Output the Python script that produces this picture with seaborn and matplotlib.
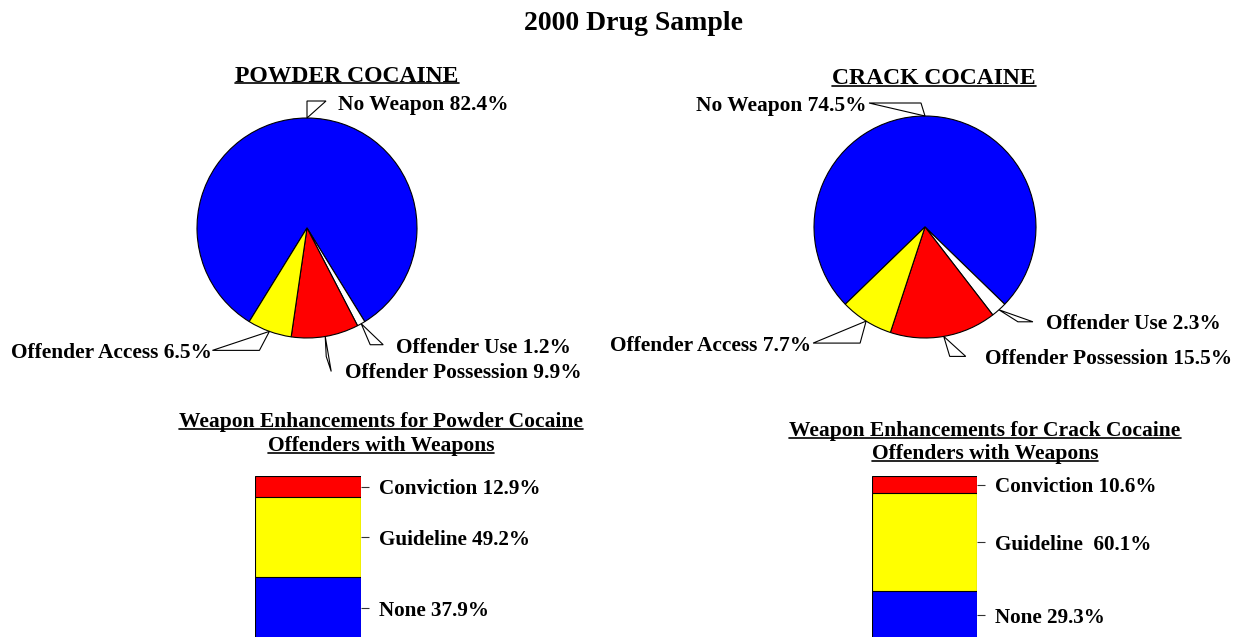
import numpy as np
import pandas as pd
import matplotlib
matplotlib.use("Agg")
import matplotlib.pyplot as plt
import matplotlib.transforms as mtransforms
from matplotlib.patches import Polygon
from matplotlib.lines import Line2D
import seaborn as sns

# pie data
pie_names = ['No Weapon', 'Offender Use', 'Offender Possession', 'Offender Access']
powder_pie = [82.4, 1.2, 9.9, 6.5]
crack_pie = [74.5, 2.3, 15.5, 7.7]

# bar data (top to bottom)
bar_names_powder = ['Conviction', 'Guideline', 'None']
bar_names_crack = ['Conviction', 'Guideline ', 'None']
powder_bar = [12.9, 49.2, 37.9]
crack_bar = [10.6, 60.1, 29.3]

pie_colors = ['#0000FF', '#FFFFFF', '#FF0000', '#FFFF00']
bar_colors = ['#FF0000', '#FFFF00', '#0000FF']

sns.set_style('white')
plt.rcParams['font.family'] = ['Liberation Serif', 'DejaVu Serif']
plt.rcParams['font.weight'] = 'bold'
plt.rcParams['text.color'] = 'black'
plt.rcParams['ytick.labelcolor'] = 'black'

W, H = 1239, 637
fig = plt.figure(figsize=(W / 100, H / 100), dpi=100)


def fx(x):
    return x / W


def fy(y):
    return 1 - y / H


underlined = []


def ftext(x, y, s, size, underline=False):
    t = fig.text(fx(x), fy(y), s, ha='center', va='center', fontsize=size,
                 fontweight='bold', color='black')
    if underline:
        underlined.append(t)
    return t


# leader geometry: elbow, end (pixels from edge point, y down), text offset, alignment
powder_leaders = [
    ((0, -17), (19, -17), (31, -13), 'left'),
    ((9, 21), (22, 21), (35, 24), 'left'),
    ((1, 20), (6, 35), (20, 37), 'left'),
    ((-10, 19), (-57, 19), (-58, 22), 'right'),
]
crack_leaders = [
    ((-4, -13), (-56, -13), (-58, -10), 'right'),
    ((19, 12), (34, 12), (47, 14), 'left'),
    ((6, 20), (22, 20), (41, 23), 'left'),
    ((-6, 22), (-53, 22), (-55, 25), 'right'),
]


def draw_pie(cx, cy, r, values, leaders):
    ax = fig.add_axes([fx(cx - r), fy(cy + r), 2 * r / W, 2 * r / H])
    start = 90 + values[0] / sum(values) * 180
    wedges, _ = ax.pie(values, colors=pie_colors, startangle=start, counterclock=False,
                       wedgeprops=dict(edgecolor='black', linewidth=0.8))
    ax.set_xlim(-1, 1)
    ax.set_ylim(-1, 1)
    for w, name, val, (e, l, t, ha) in zip(wedges, pie_names, values, leaders):
        mid = np.deg2rad((w.theta1 + w.theta2) / 2)
        px, py = np.cos(mid), np.sin(mid)
        trans = fig.dpi_scale_trans + mtransforms.ScaledTranslation(px, py, ax.transData)
        verts = [(0, 0), (e[0] / 100, -e[1] / 100), (l[0] / 100, -l[1] / 100)]
        ax.add_patch(Polygon(verts, closed=True, fill=False, edgecolor='black',
                             linewidth=0.8, transform=trans, clip_on=False))
        ax.annotate(f'{name} {val}%', xy=(px, py), xytext=(t[0], -t[1]),
                    textcoords='offset pixels', ha=ha, va='center', color='black',
                    fontsize=15.4, fontweight='bold', annotation_clip=False)
    return ax


def draw_bar(x0, x1, y0, y1, values, names):
    ax = fig.add_axes([fx(x0), fy(y1), (x1 - x0) / W, (y1 - y0) / H])
    conv, guide, none = values
    tops = [conv + guide + none, guide + none, none]
    for top, c in zip(tops, bar_colors):
        df = pd.DataFrame({'grp': ['bar'], 'val': [top]})
        sns.barplot(data=df, x='grp', y='val', color=c, saturation=1, width=1,
                    edgecolor='black', linewidth=0.8, ax=ax)
    ax.set_xlim(-0.5, 0.5)
    ax.set_ylim(0, 100)
    ax.set_xlabel('')
    ax.set_ylabel('')
    ax.set_xticks([])
    bottoms = [guide + none, none, 0]
    mids = [b + v / 2 for b, v in zip(bottoms, values)]
    ax.yaxis.tick_right()
    ax.set_yticks(mids)
    ax.set_yticklabels([f'{n} {v}%' for n, v in zip(names, values)])
    ax.tick_params(axis='y', right=True, left=False, length=6, width=0.8, pad=7,
                   labelsize=15.2, color='#333333', labelcolor='black')
    for lab in ax.get_yticklabels():
        lab.set_fontweight('bold')
    for s in ax.spines.values():
        s.set_visible(False)
    return ax


ftext(634, 24, '2000 Drug Sample', 20)
ftext(347, 76, 'POWDER COCAINE', 17, underline=True)
ftext(934, 79, 'CRACK COCAINE', 17, underline=True)

draw_pie(307, 228, 110, powder_pie, powder_leaders)
draw_pie(925, 227, 111, crack_pie, crack_leaders)

ftext(381, 422, 'Weapon Enhancements for Powder Cocaine', 15.5, underline=True)
ftext(381, 446, 'Offenders with Weapons', 15.5, underline=True)
ftext(985, 431, 'Weapon Enhancements for Crack Cocaine', 15.5, underline=True)
ftext(985, 454, 'Offenders with Weapons', 15.5, underline=True)

draw_bar(255, 361, 476, 639, powder_bar, bar_names_powder)
draw_bar(872, 977, 476, 639, crack_bar, bar_names_crack)

fig.canvas.draw()
renderer = fig.canvas.get_renderer()
for t in underlined:
    bb = t.get_window_extent(renderer)
    y = bb.y0 + 0.16 * bb.height
    fig.add_artist(Line2D([bb.x0, bb.x1], [y, y], color='black', linewidth=1.2,
                          transform=mtransforms.IdentityTransform()))

fig.savefig('out.png', dpi=100)
